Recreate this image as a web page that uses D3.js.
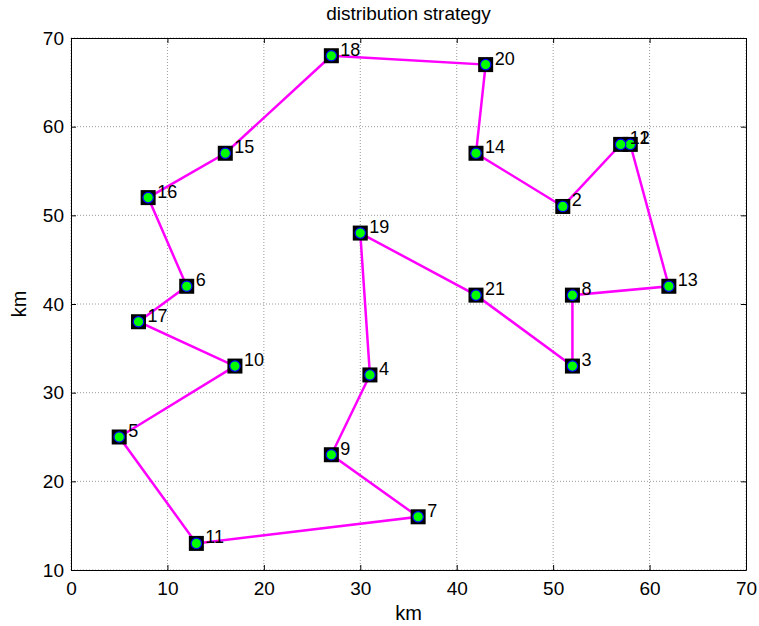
<!DOCTYPE html>
<html>
<head>
<meta charset="utf-8">
<script src="https://cdn.jsdelivr.net/npm/d3@7.9.0/dist/d3.min.js"></script>
<style>
  body { margin: 0; background: #fff; }
  svg text { font-family: "Liberation Sans", Arial, sans-serif; }
</style>
</head>
<body>
<svg id="chart"></svg>
<script>
const width = 759;
const height = 626;
const margin = { top: 38, right: 13, bottom: 56, left: 71 };

// customer ids and coordinates (km)
const ids = [1, 2, 3, 4, 5, 6, 7, 8, 9, 10, 11, 12, 13, 14, 15, 16, 17, 18, 19, 20, 21];
const xs  = [58, 51, 52, 31, 5, 12, 36, 52, 27, 17, 13, 57, 62, 42, 16, 8, 7, 27, 30, 43, 42];
const ys  = [58, 51, 33, 32, 25, 42, 16, 41, 23, 33, 13, 58, 42, 57, 57, 52, 38, 68, 48, 67, 41];

// visiting order of the route (closed loop)
const route = [18, 20, 14, 2, 12, 1, 13, 8, 3, 21, 19, 4, 9, 7, 11, 5, 10, 17, 6, 16, 15, 18];

const xTicks = [0, 10, 20, 30, 40, 50, 60, 70];
const yTicks = [10, 20, 30, 40, 50, 60, 70];

const svg = d3.select("#chart")
  .attr("width", width)
  .attr("height", height);

const x = d3.scaleLinear()
  .domain([0, 70])
  .range([margin.left, width - margin.right]);

const y = d3.scaleLinear()
  .domain([10, 70])
  .range([height - margin.bottom, margin.top]);

const pt = id => {
  const i = ids.indexOf(id);
  return { id, x: xs[i], y: ys[i] };
};

// grid
const grid = svg.append("g")
  .attr("stroke", "#808080")
  .attr("stroke-width", 0.8)
  .attr("stroke-dasharray", "1,2");

grid.selectAll(".gx")
  .data(xTicks)
  .join("line")
  .attr("x1", d => x(d)).attr("x2", d => x(d))
  .attr("y1", y(10)).attr("y2", y(70));

grid.selectAll(".gy")
  .data(yTicks)
  .join("line")
  .attr("x1", x(0)).attr("x2", x(70))
  .attr("y1", d => y(d)).attr("y2", d => y(d));

// axes with inward ticks
const tickLen = 5;
svg.append("g")
  .attr("transform", `translate(0,${y(10)})`)
  .call(d3.axisBottom(x).tickValues(xTicks).tickSizeInner(-tickLen).tickSizeOuter(0).tickPadding(12));
svg.append("g")
  .attr("transform", `translate(0,${y(70)})`)
  .call(d3.axisTop(x).tickValues(xTicks).tickSizeInner(-tickLen).tickSizeOuter(0).tickFormat(""));
svg.append("g")
  .attr("transform", `translate(${x(0)},0)`)
  .call(d3.axisLeft(y).tickValues(yTicks).tickSizeInner(-tickLen).tickSizeOuter(0).tickPadding(7));
svg.append("g")
  .attr("transform", `translate(${x(70)},0)`)
  .call(d3.axisRight(y).tickValues(yTicks).tickSizeInner(-tickLen).tickSizeOuter(0).tickFormat(""));

svg.selectAll(".domain").attr("stroke", "#000").attr("stroke-width", 1);
svg.selectAll(".tick line").attr("stroke", "#000");
svg.selectAll(".tick text")
  .attr("font-size", 19)
  .attr("font-family", "Liberation Sans, Arial, sans-serif")
  .attr("fill", "#000");

// route line
const line = d3.line()
  .x(d => x(d.x))
  .y(d => y(d.y));

svg.append("path")
  .datum(route.map(pt))
  .attr("fill", "none")
  .attr("stroke", "#ff00ff")
  .attr("stroke-width", 2.5)
  .attr("d", line);

// markers
const pts = ids.map(pt);
const sq = 15;
svg.append("g")
  .selectAll("rect")
  .data(pts)
  .join("rect")
  .attr("x", d => x(d.x) - sq / 2)
  .attr("y", d => y(d.y) - sq / 2)
  .attr("width", sq)
  .attr("height", sq)
  .attr("fill", "#000");

svg.append("g")
  .selectAll("circle")
  .data(pts)
  .join("circle")
  .attr("cx", d => x(d.x))
  .attr("cy", d => y(d.y))
  .attr("r", 5.2)
  .attr("fill", "#00ff00")
  .attr("stroke", "#0000ff")
  .attr("stroke-width", 1.2);

// point labels
svg.append("g")
  .selectAll("text")
  .data(pts)
  .join("text")
  .attr("x", d => x(d.x) + 9)
  .attr("y", d => y(d.y))
  .attr("font-size", 18)
  .attr("fill", "#000")
  .text(d => d.id);

// title and axis labels
svg.append("text")
  .attr("x", (x(0) + x(70)) / 2)
  .attr("y", 20)
  .attr("text-anchor", "middle")
  .attr("font-size", 19)
  .text("distribution strategy");

svg.append("text")
  .attr("x", (x(0) + x(70)) / 2)
  .attr("y", 620)
  .attr("text-anchor", "middle")
  .attr("font-size", 20)
  .text("km");

svg.append("text")
  .attr("transform", `translate(26,${(y(10) + y(70)) / 2}) rotate(-90)`)
  .attr("text-anchor", "middle")
  .attr("font-size", 20)
  .text("km");
</script>
</body>
</html>
